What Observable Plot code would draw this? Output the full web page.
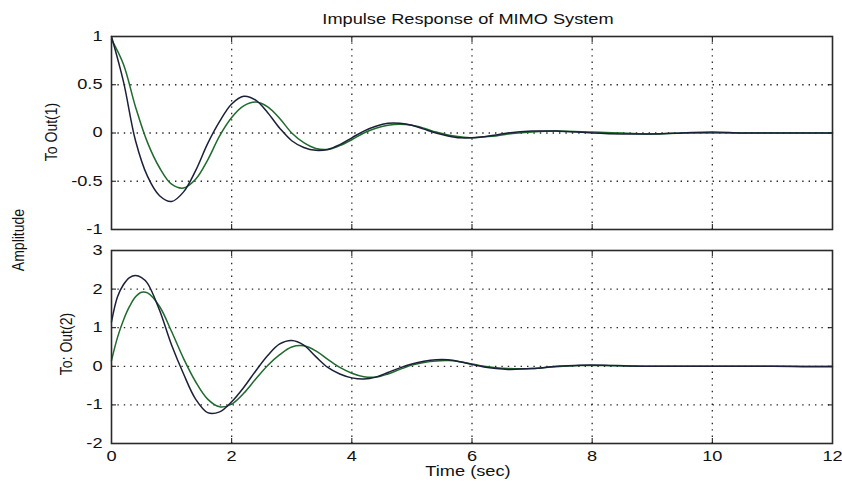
<!DOCTYPE html>
<html>
<head>
<meta charset="utf-8">
<script src="https://cdn.jsdelivr.net/npm/d3@7"></script>
<script src="https://cdn.jsdelivr.net/npm/@observablehq/plot@0.6"></script>
<style>
  html, body { margin: 0; padding: 0; background: #fff; }
  #wrap { position: relative; width: 842px; height: 489px; font-family: "Liberation Sans", Arial, sans-serif; color: #111; }
  .abs { position: absolute; }
  .lbl { font-size: 14px; white-space: nowrap; }
  .hz { transform: translate(-50%, -50%) scaleX(1.3); }
  .rot { transform: translate(-50%, -50%) rotate(-90deg) scaleY(1.15); }
</style>
</head>
<body>
<div id="wrap">
  <div id="p1" class="abs" style="left:0;top:0"></div>
  <div id="p2" class="abs" style="left:0;top:240px"></div>
  <div class="abs lbl hz" style="left:468px;top:19px">Impulse Response of MIMO System</div>
  <div class="abs lbl rot" style="left:18px;top:240px">Amplitude</div>
  <div class="abs lbl rot" style="left:51px;top:132px">To Out(1)</div>
  <div class="abs lbl rot" style="left:66px;top:344px">To: Out(2)</div>
  <div class="abs lbl hz" style="left:468px;top:471px">Time (sec)</div>
</div>
<script>
// Time samples (sec)
const time1 = [0,0.2,0.4,0.6,0.8,1.0,1.2,1.4,1.6,1.8,2.0,2.2,2.4,2.6,2.8,3.0,3.2,3.4,3.6,3.8,4.0,4.2,4.4,4.6,4.8,5.0,5.2,5.4,5.6,5.8,6.0,6.2,6.4,6.6,7.0,7.4,8.0,8.5,9.0,9.5,10,10.5,11,12];
// To Out(1): black and green responses
const out1Black = [1.00,0.53,-0.08,-0.45,-0.65,-0.71,-0.61,-0.39,-0.11,0.12,0.30,0.38,0.34,0.21,0.05,-0.08,-0.15,-0.18,-0.17,-0.12,-0.05,0.02,0.07,0.10,0.10,0.08,0.04,0.00,-0.03,-0.05,-0.05,-0.04,-0.02,0.00,0.02,0.02,0.00,-0.01,-0.01,0.00,0.01,0.00,0.00,0.00];
const out1Green = [0.97,0.71,0.27,-0.10,-0.36,-0.53,-0.57,-0.48,-0.28,-0.03,0.16,0.28,0.32,0.27,0.15,0.00,-0.10,-0.16,-0.17,-0.13,-0.07,0.00,0.05,0.08,0.09,0.08,0.05,0.01,-0.02,-0.04,-0.05,-0.04,-0.03,-0.01,0.01,0.02,0.01,0.00,-0.01,0.00,0.00,0.00,0.00,0.00];

const time2 = [0,0.1,0.2,0.3,0.4,0.5,0.6,0.8,1.0,1.2,1.4,1.6,1.8,2.0,2.2,2.4,2.6,2.8,3.0,3.2,3.4,3.6,3.8,4.0,4.2,4.4,4.6,4.8,5.0,5.2,5.4,5.6,5.8,6.0,6.2,6.4,6.6,7.0,7.4,7.8,8.2,8.6,9.0,10,11,11.5,12];
// To Out(2): black and green responses
const out2Black = [1.15,1.80,2.12,2.30,2.35,2.30,2.15,1.45,0.55,-0.20,-0.85,-1.20,-1.18,-0.92,-0.55,-0.12,0.28,0.58,0.67,0.55,0.25,-0.03,-0.20,-0.30,-0.33,-0.28,-0.16,-0.04,0.06,0.13,0.17,0.17,0.12,0.05,-0.02,-0.06,-0.08,-0.06,0.00,0.03,0.03,0.01,0.00,0.00,0.00,-0.01,-0.01];
const out2Green = [0.15,0.75,1.20,1.55,1.80,1.92,1.90,1.55,0.90,0.20,-0.40,-0.85,-1.05,-0.98,-0.70,-0.33,0.02,0.30,0.50,0.53,0.40,0.18,-0.03,-0.18,-0.27,-0.28,-0.20,-0.08,0.03,0.10,0.14,0.15,0.12,0.06,0.00,-0.04,-0.06,-0.06,-0.01,0.02,0.02,0.01,0.00,0.00,0.00,0.00,0.00];

const xTicks = [0,2,4,6,8,10,12];
const y1Ticks = [-1,-0.5,0,0.5,1];
const y1Labels = ["-1","-0.5","0","0.5","1"];
const y2Ticks = [-2,-1,0,1,2,3];

const BLACK = "#1b2038", GREEN = "#1f6a2c";
const font = "Liberation Sans, Arial, sans-serif";
const STRETCH = 1.3;

function panel({height, mt, mb, yDomain, yTicks, yFmt, xLabels, tB, yB, yG}) {
  const dB = tB.map((t,i) => ({t, v: yB[i]}));
  const dG = tB.map((t,i) => ({t, v: yG[i]}));
  const grid = {stroke: "#111", strokeOpacity: 0.9, strokeDasharray: "1.4,5", strokeWidth: 1.3};
  return Plot.plot({
    width: 842, height,
    marginLeft: 111, marginRight: 10, marginTop: mt, marginBottom: mb,
    style: {fontFamily: font, fontSize: "14px", color: "#111", background: "transparent", overflow: "visible"},
    x: {domain: [0, 12]},
    y: {domain: yDomain},
    marks: [
      Plot.gridX(xTicks.filter(d => d > 0 && d < 12), grid),
      Plot.gridY(yTicks.filter(d => d > yDomain[0] && d < yDomain[1]), grid),
      Plot.axisY(yTicks, {anchor: "left", tickSize: 0, tickPadding: 9, tickFormat: yFmt, label: null, fontSize: 14}),
      Plot.axisY(yTicks, {anchor: "left", tickSize: -5, tickFormat: () => "", label: null}),
      Plot.axisY(yTicks, {anchor: "right", tickSize: -5, tickFormat: () => "", label: null}),
      xLabels
        ? Plot.axisX(xTicks, {anchor: "bottom", tickSize: 0, tickPadding: 8, label: null, fontSize: 14})
        : Plot.axisX(xTicks, {anchor: "bottom", tickSize: 0, tickFormat: () => "", label: null}),
      Plot.axisX(xTicks, {anchor: "bottom", tickSize: -5, tickFormat: () => "", label: null}),
      Plot.axisX(xTicks, {anchor: "top", tickSize: -5, tickFormat: () => "", label: null}),
      Plot.line(dG, {x: "t", y: "v", stroke: GREEN, strokeWidth: 1.5, curve: "catmull-rom"}),
      Plot.line(dB, {x: "t", y: "v", stroke: BLACK, strokeWidth: 1.5, curve: "catmull-rom"}),
      Plot.frame({stroke: "#2a2a2a", strokeWidth: 1.6})
    ]
  });
}

function stretchLabels(svg) {
  svg.querySelectorAll('g[aria-label$="tick label"] text').forEach(t => {
    const tr = t.getAttribute("transform");
    if (tr) {
      t.setAttribute("transform", tr + ` scale(${STRETCH},1)`);
    } else {
      const x = t.getAttribute("x") || 0, y = t.getAttribute("y") || 0;
      t.removeAttribute("x"); t.removeAttribute("y");
      t.setAttribute("transform", `translate(${x},${y}) scale(${STRETCH},1)`);
    }
  });
}

const s1 = panel({
  height: 240, mt: 36, mb: 11, yDomain: [-1, 1], yTicks: y1Ticks,
  yFmt: d => y1Labels[y1Ticks.indexOf(d)], xLabels: false,
  tB: time1, yB: out1Black, yG: out1Green
});
const s2 = panel({
  height: 249, mt: 10, mb: 46, yDomain: [-2, 3], yTicks: y2Ticks,
  yFmt: d => String(d), xLabels: true,
  tB: time2, yB: out2Black, yG: out2Green
});
document.getElementById("p1").appendChild(s1);
document.getElementById("p2").appendChild(s2);
stretchLabels(s1);
stretchLabels(s2);
</script>
</body>
</html>
